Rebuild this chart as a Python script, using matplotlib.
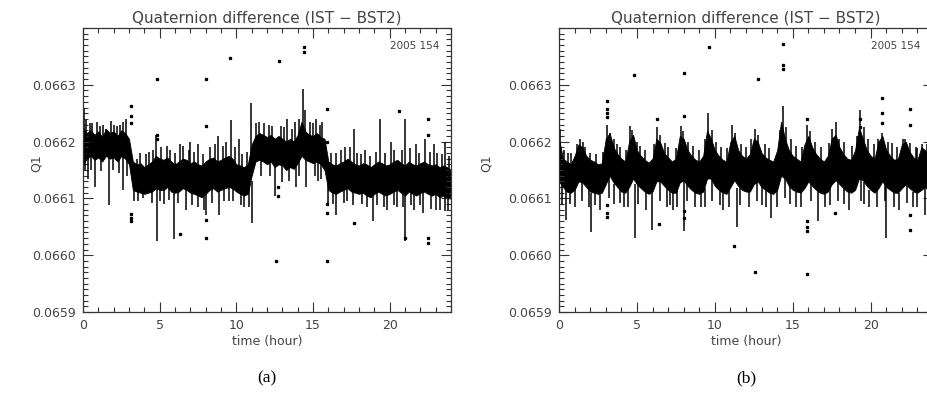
import numpy as np
import matplotlib
matplotlib.use("Agg")
import matplotlib.pyplot as plt
from matplotlib.ticker import MultipleLocator, FormatStrFormatter

BASE = 0.066
SCALE = 1e-6

# band envelope, one knot every 0.25 hour (0 .. 24)
t_band = np.arange(0, 24.01, 0.25)

a_hi = [225, 215, 220, 212, 218, 208, 222, 215, 218, 210, 220, 215,
        205, 165, 160, 162, 155, 160, 165, 175, 170, 168, 172, 165,
        160, 165, 170, 168, 162, 165, 160, 158, 165, 170, 172, 165,
        168, 172, 175, 170, 160, 158, 155, 160, 195, 210, 215, 212,
        208, 212, 205, 210, 205, 200, 205, 200, 212, 235, 218, 212,
        210, 215, 208, 205, 165, 160, 158, 162, 165, 170, 165, 160,
        158, 162, 160, 155, 160, 165, 162, 158, 160, 165, 168, 162,
        158, 165, 160, 158, 162, 165, 160, 158, 160, 155, 158, 155, 150]
a_lo = [160, 170, 175, 168, 172, 165, 175, 170, 172, 165, 175, 170,
        160, 115, 112, 110, 108, 110, 112, 118, 115, 115, 120, 112,
        110, 112, 118, 115, 110, 108, 105, 102, 108, 115, 118, 112,
        115, 118, 120, 118, 112, 108, 105, 108, 140, 165, 168, 165,
        160, 165, 155, 160, 158, 150, 155, 152, 162, 175, 168, 165,
        162, 165, 160, 150, 115, 110, 108, 112, 115, 118, 112, 110,
        108, 110, 105, 102, 108, 112, 108, 105, 108, 112, 115, 110,
        105, 112, 108, 105, 110, 112, 108, 105, 108, 102, 105, 100, 100]

b_hi = [205, 170, 165, 160, 175, 195, 190, 175, 168, 165, 160, 162,
        205, 215, 190, 178, 170, 165, 200, 212, 185, 175, 168, 163,
        170, 205, 198, 180, 172, 165, 170, 210, 205, 185, 175, 168,
        165, 175, 220, 205, 185, 175, 168, 165, 200, 210, 185, 175,
        170, 178, 205, 200, 180, 172, 168, 165, 185, 235, 205, 185,
        175, 170, 165, 195, 210, 190, 178, 170, 165, 175, 205, 212,
        190, 178, 170, 168, 185, 225, 205, 185, 175, 170, 200, 210,
        185, 175, 168, 170, 195, 200, 182, 172, 168, 190, 185, 170, 165]
b_lo = [130, 120, 112, 110, 115, 130, 128, 120, 112, 110, 108, 110,
        125, 140, 128, 120, 112, 110, 120, 135, 125, 118, 112, 108,
        112, 130, 130, 122, 115, 110, 110, 128, 132, 122, 115, 110,
        108, 112, 135, 135, 122, 115, 110, 108, 120, 132, 122, 115,
        112, 112, 125, 130, 120, 115, 110, 108, 115, 140, 135, 122,
        115, 112, 110, 118, 130, 122, 115, 110, 108, 112, 125, 132,
        125, 118, 112, 110, 115, 135, 132, 122, 115, 110, 118, 130,
        120, 115, 110, 110, 118, 125, 118, 112, 110, 115, 120, 112, 110]

# large spikes: time (hour), bottom, top
a_spk_t = [0.05, 0.6, 1.1, 1.5, 2.0, 2.4, 2.8, 3.5, 4.1, 4.75, 5.7, 6.3, 7.0,
           7.5, 8.8, 9.65, 10.2, 10.95, 11.5, 12.1, 13.3, 13.8, 14.35, 14.8,
           15.2, 15.6, 16.5, 17.1, 17.7, 18.4, 19.4, 20.1, 21.0, 21.7, 22.3,
           22.9, 23.6,
           0.35, 0.8, 1.7, 2.6, 3.3, 3.9, 4.85, 5.3, 5.95, 6.7, 7.5, 8.0, 8.9,
           9.5, 10.5, 11.05, 12.5, 13.9, 14.55, 15.3, 16.0, 16.5, 17.2, 18.2,
           18.9, 19.8, 20.5, 21.0, 21.6, 22.2, 23.0, 23.8]
a_spk_lo = [180, 180, 175, 180, 185, 180, 185, 130, 125, 130, 140, 135, 140,
            135, 135, 140, 135, 150, 190, 195, 190, 190, 200, 195,
            190, 185, 130, 130, 130, 125, 130, 130, 135, 130, 130,
            125, 125,
            135, 120, 88, 115, 95, 100, 25, 90, 28, 80, 85, 70, 70,
            95, 85, 57, 105, 120, 120, 130, 90, 70, 95, 90,
            60, 80, 85, 25, 80, 75, 80, 80]
a_spk_hi = [260, 232, 228, 222, 230, 230, 240, 170, 178, 212, 185, 195, 200,
            195, 210, 238, 205, 268, 235, 230, 240, 235, 292, 235,
            240, 235, 180, 190, 222, 185, 240, 200, 240, 195, 205,
            195, 200,
            185, 180, 180, 180, 130, 130, 130, 130, 130, 130, 130, 130, 130,
            130, 125, 130, 180, 185, 190, 185, 150, 130, 130, 125,
            125, 125, 125, 130, 125, 125, 120, 115]

# small noise spikes along the band: time (hour), bottom, top
a_fine_t = [0.2, 0.45, 0.9, 1.3, 1.85, 2.2, 2.6, 3.7, 4.3, 4.55, 5.1, 5.5, 6.0,
            6.55, 6.9, 7.25, 7.8, 8.3, 8.6, 9.1, 9.35, 9.9, 10.4, 10.7, 11.3,
            11.8, 12.3, 12.9, 13.1, 13.6, 14.1, 14.5, 15.0, 15.45, 16.2, 16.8,
            17.4, 17.9, 18.1, 18.7, 19.1, 19.7, 20.3, 20.8, 21.3, 21.9, 22.6,
            23.1, 23.4, 23.9,
            0.15, 0.55, 1.2, 1.95, 2.35, 2.9, 3.6, 4.5, 5.0, 5.6, 6.2, 7.1, 7.9,
            8.4, 9.2, 9.8, 10.3, 10.8, 11.6, 12.2, 12.95, 13.45, 14.1, 15.1,
            15.5, 16.3, 17.0, 17.6, 18.5, 19.2, 19.6, 20.3, 20.9, 21.4, 22.0,
            22.7, 23.3, 23.6]
a_fine_lo = [200, 195, 195, 190, 195, 190, 195, 140, 140, 140, 145, 150, 140,
             145, 145, 140, 135, 145, 145, 145, 150, 145, 135, 135, 185,
             185, 185, 180, 180, 180, 190, 190, 185, 185, 135, 140,
             140, 135, 135, 130, 135, 135, 140, 140, 140, 135, 135,
             135, 130, 130,
             150, 150, 148, 150, 145, 140, 95, 92, 95, 98, 92, 88, 80,
             92, 95, 95, 88, 85, 140, 140, 128, 130, 140, 140,
             135, 90, 92, 88, 85, 88, 85, 88, 85, 88, 88,
             82, 80, 78]
a_fine_hi = [238, 232, 235, 230, 236, 228, 235, 180, 182, 185, 190, 192, 180,
             192, 185, 182, 178, 190, 195, 192, 200, 190, 178, 182, 232,
             232, 228, 228, 225, 222, 240, 255, 232, 230, 180, 185,
             190, 180, 178, 175, 182, 180, 185, 185, 188, 180, 182,
             180, 178, 175,
             190, 190, 190, 190, 190, 185, 130, 130, 140, 140, 130, 130, 130,
             135, 135, 140, 130, 130, 185, 185, 180, 180, 185, 185,
             180, 130, 135, 130, 128, 130, 128, 130, 128, 130, 130,
             125, 125, 122]

b_spk_t = [0.05, 0.6, 1.35, 1.7, 2.4, 3.1, 3.7, 4.55, 5.2, 6.3, 6.8, 7.8, 8.3,
           9.55, 10.1, 11.1, 11.7, 12.55, 13.2, 14.35, 14.9, 15.9, 16.4,
           17.75, 18.3, 19.3, 19.8, 20.7, 21.4, 22.2, 22.9, 23.3,
           0.45, 1.0, 2.05, 2.6, 3.5, 4.2, 4.9, 5.95, 6.9, 7.3, 8.0, 8.7, 9.1,
           10.5, 11.4, 12.2, 13.6, 14.0, 15.2, 16.6, 17.1, 18.6, 19.9, 21.0,
           21.8, 22.7, 23.5]
b_spk_lo = [150, 140, 150, 140, 130, 150, 140, 150, 140, 150, 140, 150, 140,
            150, 140, 150, 140, 150, 140, 160, 140, 150, 140,
            150, 140, 160, 140, 150, 140, 150, 140, 150,
            62, 85, 40, 80, 90, 85, 30, 45, 85, 80, 42, 85, 85,
            80, 50, 85, 65, 85, 85, 60, 85, 80, 85, 30,
            80, 85, 70]
b_spk_hi = [222, 180, 205, 190, 178, 229, 195, 228, 192, 225, 198, 228, 200,
            250, 200, 230, 195, 222, 195, 262, 205, 230, 200,
            235, 200, 255, 205, 215, 198, 205, 190, 195,
            120, 115, 110, 110, 125, 110, 125, 110, 120, 110, 130, 112, 108,
            110, 118, 112, 110, 115, 112, 115, 110, 112, 115, 120,
            110, 112, 118]

b_fine_t = [0.3, 0.8, 1.15, 1.55, 2.0, 2.8, 3.3, 3.5, 3.9, 4.3, 4.7, 5.0, 5.5,
            6.1, 6.5, 7.0, 7.5, 7.95, 8.6, 9.0, 9.35, 9.8, 10.4, 10.8, 11.3,
            12.0, 12.35, 12.8, 13.5, 14.15, 14.55, 15.2, 15.6, 16.1, 16.8,
            17.3, 17.55, 18.0, 18.8, 19.1, 19.55, 20.2, 20.5, 21.1, 21.7,
            22.05, 22.5, 23.0, 23.6, 23.9,
            0.2, 0.7, 1.5, 1.9, 2.3, 3.2, 3.9, 4.4, 5.1, 5.6, 6.5, 7.1, 7.6,
            8.2, 9.4, 9.8, 10.3, 10.9, 11.6, 12.7, 13.0, 13.3, 14.5, 14.8,
            15.5, 16.2, 17.4, 17.9, 18.3, 19.4, 19.6, 20.4, 20.9, 21.5, 22.3,
            23.0, 23.7]
b_fine_lo = [140, 135, 140, 145, 135, 135, 150, 145, 140, 140, 150, 145, 140,
             140, 150, 145, 140, 150, 140, 135, 145, 150, 140, 140, 150,
             140, 145, 150, 140, 150, 150, 140, 140, 150, 140,
             140, 150, 145, 140, 145, 150, 140, 145, 145, 140,
             145, 145, 140, 140, 135,
             88, 90, 95, 85, 88, 100, 92, 85, 90, 80, 95, 88, 85,
             95, 85, 95, 88, 85, 88, 95, 88, 85, 100, 90,
             85, 95, 88, 95, 90, 95, 90, 85, 95, 85, 92,
             85, 88]
b_fine_hi = [185, 180, 195, 200, 180, 182, 215, 205, 190, 185, 220, 200, 185,
             195, 212, 190, 188, 218, 192, 185, 205, 220, 190, 188, 215,
             190, 205, 212, 188, 220, 225, 192, 190, 218, 190,
             198, 222, 205, 192, 210, 225, 195, 205, 200, 190,
             205, 198, 188, 195, 185,
             125, 120, 135, 120, 118, 140, 125, 120, 128, 118, 135, 120, 118,
             130, 118, 135, 122, 118, 122, 132, 125, 120, 140, 128,
             118, 130, 120, 132, 125, 135, 128, 118, 128, 118, 125,
             118, 120]

# isolated samples
a_dot_t = [3.1, 3.1, 3.1, 3.1, 3.1, 3.1, 4.8, 4.8, 4.8, 6.3, 8.0, 8.0, 8.0,
           8.0, 9.6, 12.6, 12.8, 12.7, 12.7, 14.4, 14.4, 15.9, 15.9, 15.9,
           15.9, 15.9, 17.7, 20.6, 22.5, 22.5, 22.5, 22.5, 21.0]
a_dot_v = [263, 245, 232, 72, 65, 60, 310, 212, 205, 37, 310, 228, 62,
           30, 348, -10, 342, 120, 105, 366, 358, 258, 200, 90,
           75, -10, 57, 254, 240, 212, 30, 22, 30]

b_dot_t = [3.1, 3.1, 3.1, 3.1, 3.1, 3.1, 3.1, 4.8, 6.4, 6.3, 8.0, 8.0, 8.0,
           8.0, 9.6, 11.2, 12.8, 12.6, 14.4, 14.4, 14.4, 15.9, 15.9, 15.9,
           15.9, 15.9, 17.7, 19.3, 19.3, 20.7, 20.7, 20.7, 22.5, 22.5, 22.5,
           22.5]
b_dot_v = [272, 258, 250, 243, 88, 75, 68, 318, 55, 240, 320, 245, 78,
           65, 366, 17, 310, -30, 372, 335, 328, 240, 60, 50,
           42, -33, 75, 240, 225, 276, 250, 232, 258, 229, 70,
           45]

panels = [
    dict(pos=[83 / 927, 82 / 394, 368 / 927, 284 / 394], hi=a_hi, lo=a_lo,
         st=a_spk_t + a_fine_t, slo=a_spk_lo + a_fine_lo, shi=a_spk_hi + a_fine_hi,
         dt=a_dot_t, dv=a_dot_v, tag="(a)", qx=-0.109),
    dict(pos=[559 / 927, 82 / 394, 374 / 927, 284 / 394], hi=b_hi, lo=b_lo,
         st=b_spk_t + b_fine_t, slo=b_spk_lo + b_fine_lo, shi=b_spk_hi + b_fine_hi,
         dt=b_dot_t, dv=b_dot_v, tag="(b)", qx=-0.176),
]

txt = "#444444"
fig = plt.figure(figsize=(9.27, 3.94), dpi=100)

for p in panels:
    ax = fig.add_axes(p["pos"])
    hi = BASE + np.array(p["hi"]) * SCALE
    lo = BASE + np.array(p["lo"]) * SCALE
    ax.fill_between(t_band, lo, hi, color="black", lw=0.6, edgecolor="black")
    ax.vlines(p["st"], BASE + np.array(p["slo"]) * SCALE,
              BASE + np.array(p["shi"]) * SCALE, color="black", lw=1.1)
    ax.plot(p["dt"], BASE + np.array(p["dv"]) * SCALE, ls="none", marker="s",
            ms=1.4, color="black")

    ax.set_xlim(0, 24)
    ax.set_ylim(0.0659, 0.0664)
    ax.set_yticks([0.0659, 0.0660, 0.0661, 0.0662, 0.0663])
    ax.yaxis.set_major_formatter(FormatStrFormatter("%.4f"))
    ax.yaxis.set_minor_locator(MultipleLocator(0.00001))
    ax.xaxis.set_major_locator(MultipleLocator(5))
    ax.xaxis.set_minor_locator(MultipleLocator(1))
    ax.tick_params(which="both", direction="in", top=True, right=True,
                   colors="#333333", labelcolor=txt, labelsize=9, width=0.8)
    ax.tick_params(which="major", length=7, pad=5)
    ax.tick_params(which="minor", length=3.5)
    for s in ax.spines.values():
        s.set_color("#333333")
        s.set_linewidth(0.9)

    ax.set_title("Quaternion difference (IST \u2212 BST2)", fontsize=11,
                 color=txt, pad=4)
    ax.set_xlabel("time (hour)", fontsize=9, color=txt, labelpad=2)
    ax.set_ylabel("Q1", fontsize=9, color=txt)
    ax.yaxis.set_label_coords(p["qx"], 0.525)
    ax.text(0.90, 0.935, "2005 154", transform=ax.transAxes, fontsize=7.5,
            color=txt, ha="center", va="center")
    cx = (p["pos"][0] + p["pos"][2] / 2)
    fig.text(cx, 1 - 378 / 394, p["tag"], fontsize=12.5,
             family="Liberation Serif", ha="center", va="center")

fig.savefig("out.png", dpi=100)
